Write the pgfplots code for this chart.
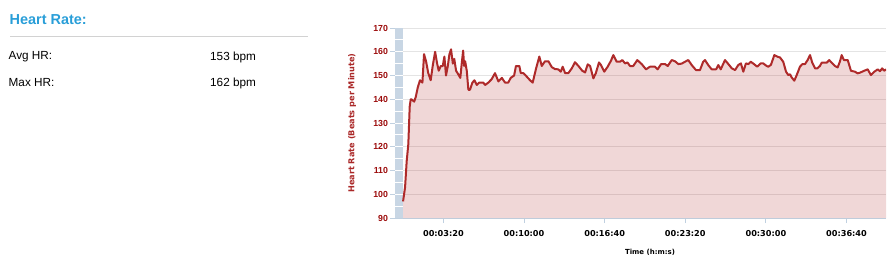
\documentclass[border=0pt]{standalone}
\usepackage{pgfplots}
\pgfplotsset{compat=1.18}
\usepackage{pgfplotstable}
\usepackage{fontspec}
\setmainfont{Liberation Sans}
\newfontfamily\chartfont{DejaVu Sans}
\definecolor{titleblue}{RGB}{41,158,216}
\definecolor{hrline}{RGB}{174,42,42}
\definecolor{hrfill}{RGB}{176,40,40}
\definecolor{ticklab}{RGB}{155,10,10}
\definecolor{ylab}{RGB}{170,40,40}
\definecolor{bandcol}{RGB}{200,214,228}
\definecolor{axiscol}{RGB}{192,208,224}
\definecolor{gridcol}{RGB}{228,228,228}
\definecolor{sepcol}{RGB}{210,210,210}
\pgfplotstableread{
t hr
0 97
10 103
18 114
26 121
33 137
38 140
41 140
55 139
63 141
73 145
84 148
96 147
104 159
114 156
125 151
137 148
147 154
159 160
169 155
177 152
187 154
197 154
205 158
213 150
222 154
230 159
238 161
247 155
254 157
263 152
274 150.5
284 149
291 155
298 160.5
303 154
308 156
316 152
324 144
332 144
344 147
354 148
366 146
377 147
390 147
398 147
407 146
423 147
440 148.5
456 151
473 147.5
490 149
506 147
522 147
534 149
551 150
560 154
577 154
584 151
597 151
614 149.5
630 148
643 147
660 153
676 158
688 154
704 156
721 156
738 153.5
754 152.7
770 152.6
782 151.6
792 153.7
804 151
820 151
837 153
853 155.6
870 154
889 152
903 151.3
916 154.7
928 154
944 148.8
956 150.9
972 155.5
982 154.4
998 151.6
1015 153.7
1032 156.3
1043 158.6
1060 155.8
1076 155.8
1088 156.5
1101 155.1
1113 155.5
1126 154
1142 154
1162 156.5
1184 154.8
1205 152.6
1225 153.7
1250 153.7
1263 152.6
1280 154.8
1300 154.8
1313 154
1333 156.5
1349 156
1366 154.8
1382 155
1399 155.8
1415 156.5
1432 154.4
1453 152.3
1473 152.3
1489 155.8
1498 156.5
1514 154.4
1531 152.6
1553 152.6
1564 154.4
1576 152.6
1597 156.5
1614 154.8
1631 153
1647 152.3
1663 154.4
1676 155.1
1688 151.6
1701 155.1
1713 154.8
1725 155.8
1741 154.8
1757 153.7
1774 155.1
1787 155.1
1804 154
1812 153.7
1825 154.5
1842 158.6
1858 157.9
1870 157.6
1886 155.8
1900 151.6
1911 150.2
1920 150.5
1928 149.2
1941 147.8
1953 150.2
1969 153.7
1981 154.8
1994 154.8
2007 156.5
2019 158.6
2030 155.4
2044 153
2055 153
2068 154
2077 155.4
2102 155.4
2114 156.5
2126 155.4
2143 154
2156 153.4
2167 155.8
2176 158.6
2187 156.5
2206 156.5
2222 152
2242 151.6
2255 150.9
2267 151.2
2288 152
2305 152.6
2321 150.2
2338 151.6
2355 152.6
2366 151.8
2377 153
2387 152
2396 152.6
}\hrdata
\begin{document}
\begin{tikzpicture}[x=1bp,y=1bp]
\path[use as bounding box] (0,0) rectangle (895,265);
% left info panel
\node[anchor=west, inner sep=0pt, font=\fontsize{14.5}{16}\selectfont\bfseries, text=titleblue] at (9.5,245) {Heart Rate:};
\draw[sepcol, line width=1bp] (10,229) -- (308,229);
\node[anchor=west, inner sep=0pt, font=\fontsize{11.8}{13}\selectfont] at (8.5,208) {Avg HR:};
\node[anchor=west, inner sep=0pt, font=\fontsize{11.8}{13}\selectfont] at (210,208) {153 bpm};
\node[anchor=west, inner sep=0pt, font=\fontsize{11.8}{13}\selectfont] at (8.5,182) {Max HR:};
\node[anchor=west, inner sep=0pt, font=\fontsize{11.8}{13}\selectfont] at (210,182) {162 bpm};
% labels
\node[rotate=90, inner sep=0pt, font=\chartfont\fontsize{8.2}{9}\selectfont\bfseries, text=ylab] at (352,142) {Heart Rate (Beats per Minute)};
\node[inner sep=0pt, font=\chartfont\fontsize{7}{9}\selectfont\bfseries] at (650,13) {Time (h:m:s)};
\begin{axis}[
  at={(395bp,47bp)}, anchor=south west,
  scale only axis, width=491bp, height=190bp,
  xmin=-40, xmax=2396, ymin=90, ymax=170,
  axis x line*=bottom, axis y line*=left,
  y axis line style={draw=none},
  x axis line style={draw=axiscol, line width=1bp},
  xtick={200,600,1000,1400,1800,2200},
  xticklabels={00:03:20,00:10:00,00:16:40,00:23:20,00:30:00,00:36:40},
  ytick={90,100,...,170},
  tick align=outside,
  major tick length=5bp,
  xtick style={draw=axiscol, line width=1bp},
  ytick style={draw=axiscol, line width=0.9bp},
  ymajorgrids, grid style={draw=gridcol, line width=0.8bp},
  /pgf/number format/assume math mode=true,
  xticklabel style={font=\chartfont\fontsize{8.2}{10}\selectfont\bfseries, yshift=-4bp},
  yticklabel style={font=\fontsize{8.8}{10}\selectfont\bfseries, text=ticklab, xshift=1.5bp},
  clip=true,
]
\fill[bandcol] (axis cs:-40,90) rectangle (axis cs:0,170);
\pgfplotsinvokeforeach{95,100,...,165}{\draw[white, line width=0.9bp] (axis cs:-40,#1) -- (axis cs:0,#1);}
\addplot[draw=none, fill=hrfill, fill opacity=0.19] table[x=t,y=hr] {\hrdata} \closedcycle;
\addplot[hrline, line width=2bp, line join=round] table[x=t,y=hr] {\hrdata};
\end{axis}
\end{tikzpicture}
\end{document}
